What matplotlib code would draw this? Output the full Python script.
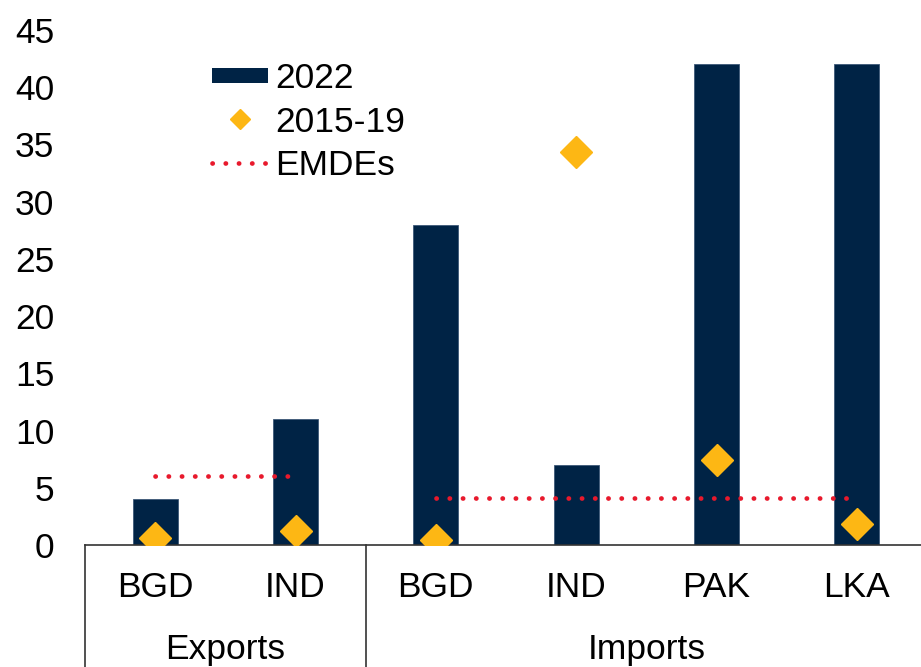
import matplotlib
matplotlib.use("Agg")
import matplotlib.pyplot as plt
import matplotlib.transforms as mtransforms
from matplotlib.patches import Rectangle
from matplotlib.legend_handler import HandlerPatch

plt.rcParams['font.family'] = ['Liberation Sans', 'DejaVu Sans']

countries = ["BGD", "IND", "BGD", "IND", "PAK", "LKA"]
groups = ["Exports", "Imports"]
group_sizes = [2, 4]
values_2022 = [4.0, 11.0, 28.0, 7.0, 42.0, 42.0]
values_2015_19 = [0.6, 1.2, 0.4, 34.3, 7.4, 1.8]
emde_values = [6.0, 4.1]

navy = "#002345"
gold = "#FDB714"
red = "#E8192C"
FS = 25.5

fig = plt.figure(figsize=(9.21, 6.67), dpi=100)
ax = fig.add_axes([85/921, (667-545)/667, (927 - 85)/921, (545-30)/667])

x = list(range(len(countries)))
bars = ax.bar(x, values_2022, width=0.32, color=navy, edgecolor="#3d5878", linewidth=0.6, zorder=2)
dia, = ax.plot(x, values_2015_19, linestyle="none", marker="D", markersize=16.5, color=gold, zorder=3)

start = 0
emde_handle = None
for g, n, v in zip(groups, group_sizes, emde_values):
    xs = [start, start + n - 1]
    ln, = ax.plot(xs, [v, v], color=red, linewidth=3.4, linestyle=(0, (0.05, 2.75)),
                  dash_capstyle="round", zorder=4)
    if emde_handle is None:
        emde_handle = ln
    start += n

ax.set_xlim(-0.5, len(countries) - 0.5)
ax.set_ylim(0, 45)
ax.set_yticks(range(0, 46, 5))
ax.tick_params(axis="y", length=0, pad=22, labelsize=FS)
ax.set_xticks(x)
ax.set_xticklabels(countries, fontsize=FS)
ax.tick_params(axis="x", length=0, pad=19)
for s in ["top", "right", "left"]:
    ax.spines[s].set_visible(False)
ax.spines["bottom"].set_color("#333333")
ax.spines["bottom"].set_linewidth(1.2)

# group separators and labels
trans = mtransforms.blended_transform_factory(ax.transData, ax.transAxes)
bottom_ax = -(545 - 0) / (545 - 30)
start = 0
bounds = [-0.5]
for g, n in zip(groups, group_sizes):
    bounds.append(start + n - 0.5)
    ax.text(start + (n - 1) / 2, -(650 - 545) / (545 - 30), g, transform=trans,
            ha="center", va="center", fontsize=FS)
    start += n
for b in bounds:
    ax.plot([b, b], [0, bottom_ax], transform=trans, color="#333333", linewidth=1.2, clip_on=False)

def make_rect(legend, orig_handle, xdescent, ydescent, width, height, fontsize):
    h = height * 0.6
    return Rectangle((-xdescent, -ydescent + (height - h) / 2), width, h)

leg = ax.legend(handles=[bars[0], dia, emde_handle], labels=["2022", "2015-19", "EMDEs"],
                loc="upper left", bbox_to_anchor=(212/921, 1 - 62/667), bbox_transform=fig.transFigure,
                frameon=False, fontsize=FS, handlelength=1.58, handletextpad=0.2,
                labelspacing=0.3, borderpad=0, borderaxespad=0, markerscale=0.6,
                handler_map={Rectangle: HandlerPatch(patch_func=make_rect)})
leg.get_patches()[0].set_edgecolor("none")

fig.savefig("out.png", dpi=100)
